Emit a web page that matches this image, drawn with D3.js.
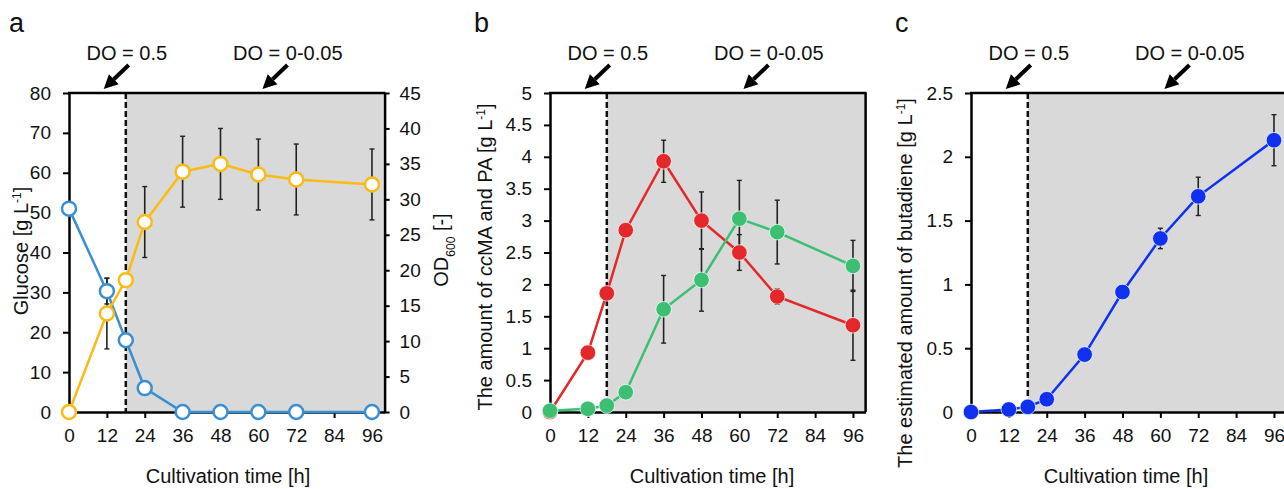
<!DOCTYPE html>
<html><head><meta charset="utf-8">
<script src="https://cdn.jsdelivr.net/npm/d3@7"></script>
<style>
body{margin:0;background:#fff;}
svg{display:block;font-family:"Liberation Sans",Arial,Helvetica,sans-serif;}
</style></head><body>
<svg id="chart" width="1284" height="489"></svg>
<script>
// ---------------- data ----------------
const time = [0, 12, 18, 24, 36, 48, 60, 72, 96];
const xTicks = [0, 12, 24, 36, 48, 60, 72, 84, 96];

const glucose    = [51, 30.3, 18, 6, 0, 0, 0, 0, 0];
const glucoseErr = [0, 3.2, 0, 0, 0, 0, 0, 0, 0];
const od600      = [0, 13.9, 18.6, 26.8, 33.9, 35.0, 33.5, 32.8, 32.1];
const od600Err   = [0, 5, 0, 5, 5, 5, 5, 5, 5];

const ccMA    = [0, 0.93, 1.86, 2.85, 3.93, 3.0, 2.5, 1.81, 1.36];
const ccMAErr = [0, 0, 0, 0, 0.33, 0.45, 0.28, 0.12, 0.55];
const pa      = [0.02, 0.05, 0.1, 0.31, 1.61, 2.07, 3.03, 2.82, 2.29];
const paErr   = [0, 0, 0, 0, 0.53, 0.49, 0.6, 0.5, 0.4];

const butadiene    = [0, 0.02, 0.04, 0.1, 0.45, 0.94, 1.36, 1.69, 2.13];
const butadieneErr = [0, 0, 0, 0, 0, 0, 0.08, 0.15, 0.2];

const glucoseTicks = [0, 10, 20, 30, 40, 50, 60, 70, 80];
const odTicks = [0, 5, 10, 15, 20, 25, 30, 35, 40, 45];
const bTicks = [0, 0.5, 1, 1.5, 2, 2.5, 3, 3.5, 4, 4.5, 5];
const cTicks = [0, 0.5, 1, 1.5, 2, 2.5];

const doLabels = ["DO = 0.5", "DO = 0-0.05"];
const doTextTime = [18, 69];
const doTipTime = [11, 61.3];
const shiftTime = 18;

// ---------------- layout ----------------
const svg = d3.select("#chart");
const TOP = 93, BOTTOM = 412;
const FONT = 19;
const TITLE = 20;

function panel(o) {
  const g = svg.append("g");
  const x = d3.scaleLinear().domain([0, 100]).range([o.left, o.left + 315.6]);
  const y = d3.scaleLinear().domain(o.yDomain).range([BOTTOM, TOP]);

  g.append("rect")
    .attr("x", x(shiftTime)).attr("y", TOP)
    .attr("width", x(100) - x(shiftTime)).attr("height", BOTTOM - TOP)
    .attr("fill", "#d9d9d9");

  g.append("line")
    .attr("x1", x(shiftTime)).attr("x2", x(shiftTime))
    .attr("y1", TOP).attr("y2", BOTTOM)
    .attr("stroke", "#111").attr("stroke-width", 2.5).attr("stroke-dasharray", "6,3");

  const yAx = g.append("g").attr("transform", `translate(${x(0)},0)`)
    .call(d3.axisLeft(y).tickValues(o.yTicks).tickSize(6).tickPadding(12).tickSizeOuter(0).tickFormat(d3.format("")));
  const xAx = g.append("g").attr("transform", `translate(0,${BOTTOM})`)
    .call(d3.axisBottom(x).tickValues(xTicks).tickSize(6).tickPadding(11).tickSizeOuter(0));
  [yAx, xAx].forEach(a => {
    a.selectAll("path.domain").attr("stroke", "#000").attr("stroke-width", 2.5);
    a.selectAll(".tick line").attr("stroke", "#000").attr("stroke-width", 2);
    a.selectAll(".tick text").attr("fill", "#111").style("font-size", FONT + "px").style("font-family", "inherit");
  });
  g.append("line").attr("x1", x(0) - 1).attr("x2", x(100) + 1).attr("y1", TOP).attr("y2", TOP)
    .attr("stroke", "#000").attr("stroke-width", 2.5);

  if (o.y2Domain) {
    const y2 = d3.scaleLinear().domain(o.y2Domain).range([BOTTOM, TOP]);
    const rAx = g.append("g").attr("transform", `translate(${x(100)},0)`)
      .call(d3.axisRight(y2).tickValues(o.y2Ticks).tickSize(5).tickPadding(10).tickSizeOuter(0));
    rAx.selectAll("path.domain").attr("stroke", "#000").attr("stroke-width", 2.5);
    rAx.selectAll(".tick line").attr("stroke", "#000").attr("stroke-width", 2);
    rAx.selectAll(".tick text").attr("fill", "#111").style("font-size", FONT + "px").style("font-family", "inherit");
    o.y2 = y2;
  } else {
    g.append("line").attr("x1", x(100)).attr("x2", x(100)).attr("y1", TOP).attr("y2", BOTTOM)
      .attr("stroke", "#000").attr("stroke-width", 2.5);
  }

  g.append("text").attr("x", o.xTitleX).attr("y", 483).attr("text-anchor", "middle")
    .style("font-size", TITLE + "px").attr("fill", "#111").text("Cultivation time [h]");

  g.append("text").attr("x", o.letterX).attr("y", 32).style("font-size", "27px").attr("fill", "#111").text(o.letter);

  doLabels.forEach((lab, i) => {
    const tx = x(doTextTime[i]);
    g.append("text").attr("x", tx + 1).attr("y", 60).attr("text-anchor", "middle")
      .style("font-size", TITLE + "px").attr("fill", "#111").text(lab);
    const hx = x(doTipTime[i]), hy = TOP - 4;
    const ang = Math.atan2(hy - 65, hx - (hx + 25));
    const L = 14, W = 7;
    const bx = hx - L * Math.cos(ang), by = hy - L * Math.sin(ang);
    g.append("line").attr("x1", hx + 25).attr("y1", 65).attr("x2", bx).attr("y2", by)
      .attr("stroke", "#000").attr("stroke-width", 4);
    const px = -Math.sin(ang), py = Math.cos(ang);
    g.append("path")
      .attr("d", `M${hx},${hy}L${bx + px * W},${by + py * W}L${bx - px * W},${by - py * W}Z`)
      .attr("fill", "#000");
  });

  o.x = x; o.y = y; o.g = g;
  return o;
}

function series(p, vals, errs, yS, color) {
  const g = p.g;
  const line = d3.line().x((d, i) => p.x(time[i])).y(d => yS(d));
  g.append("path").datum(vals).attr("d", line).attr("fill", "none")
    .attr("stroke", color).attr("stroke-width", 2.5);
  return () => {
    vals.forEach((v, i) => {
      const e = errs[i];
      if (!e) return;
      const cx = p.x(time[i]);
      const y1 = yS(v + e), y2 = yS(Math.max(0, v - e));
      g.append("line").attr("x1", cx).attr("x2", cx).attr("y1", y1).attr("y2", y2)
        .attr("stroke", "#222").attr("stroke-width", 1.6);
      [y1, y2].forEach(yy => g.append("line").attr("x1", cx - 2.5).attr("x2", cx + 2.5)
        .attr("y1", yy).attr("y2", yy).attr("stroke", "#222").attr("stroke-width", 1.4));
    });
  };
}
function markers(p, vals, yS, color, filled) {
  p.g.selectAll(null).data(vals).enter().append("circle")
    .attr("cx", (d, i) => p.x(time[i])).attr("cy", d => yS(d))
    .attr("r", filled ? 7.8 : 7)
    .attr("fill", filled ? color : "#fff")
    .attr("stroke", filled ? "rgba(255,255,255,0.7)" : color)
    .attr("stroke-width", filled ? 1 : 2.5);
}

// ---------------- panel a ----------------
const pA = panel({left: 69, yDomain: [0, 80], yTicks: glucoseTicks, y2Domain: [0, 45], y2Ticks: odTicks,
  xTitleX: 228, letter: "a", letterX: 9});
const blueA = "#3a8fd4", yellowA = "#f9bb14";
const ebG = series(pA, glucose, glucoseErr, pA.y, blueA);
const ebO = series(pA, od600, od600Err, pA.y2, yellowA);
ebG(); ebO();
markers(pA, glucose, pA.y, blueA, false);
markers(pA, od600, pA.y2, yellowA, false);

let t = svg.append("text").attr("transform", "translate(28,251) rotate(-90)").attr("text-anchor", "middle")
  .style("font-size", TITLE + "px").attr("fill", "#111");
t.append("tspan").text("Glucose [g L");
t.append("tspan").attr("baseline-shift", "super").style("font-size", "12px").text("-1");
t.append("tspan").text("]");

t = svg.append("text").attr("transform", "translate(448,250) rotate(-90)").attr("text-anchor", "middle")
  .style("font-size", TITLE + "px").attr("fill", "#111");
t.append("tspan").text("OD");
t.append("tspan").attr("baseline-shift", "sub").style("font-size", "12px").text("600");
t.append("tspan").text(" [-]");

// ---------------- panel b ----------------
const pB = panel({left: 550, yDomain: [0, 5], yTicks: bTicks, xTitleX: 712, letter: "b", letterX: 474});
const red = "#e3282b", green = "#3cbf72";
const ebR = series(pB, ccMA, ccMAErr, pB.y, red);
const ebGr = series(pB, pa, paErr, pB.y, green);
ebR(); ebGr();
markers(pB, ccMA, pB.y, red, true);
markers(pB, pa, pB.y, green, true);

t = svg.append("text").attr("transform", "translate(492,257) rotate(-90)").attr("text-anchor", "middle")
  .style("font-size", TITLE + "px").attr("fill", "#111");
t.append("tspan").text("The amount of ");
t.append("tspan").style("font-style", "italic").text("cc");
t.append("tspan").text("MA and PA [g L");
t.append("tspan").attr("baseline-shift", "super").style("font-size", "12px").text("-1");
t.append("tspan").text("]");

// ---------------- panel c ----------------
const pC = panel({left: 971, yDomain: [0, 2.5], yTicks: cTicks, xTitleX: 1126, letter: "c", letterX: 895});
const blueC = "#1030f0";
const ebB = series(pC, butadiene, butadieneErr, pC.y, blueC);
ebB();
markers(pC, butadiene, pC.y, blueC, true);

t = svg.append("text").attr("transform", "translate(912,283) rotate(-90)").attr("text-anchor", "middle")
  .style("font-size", TITLE + "px").attr("fill", "#111");
t.append("tspan").text("The estimated amount of butadiene [g L");
t.append("tspan").attr("baseline-shift", "super").style("font-size", "12px").text("-1");
t.append("tspan").text("]");
</script>
</body></html>
